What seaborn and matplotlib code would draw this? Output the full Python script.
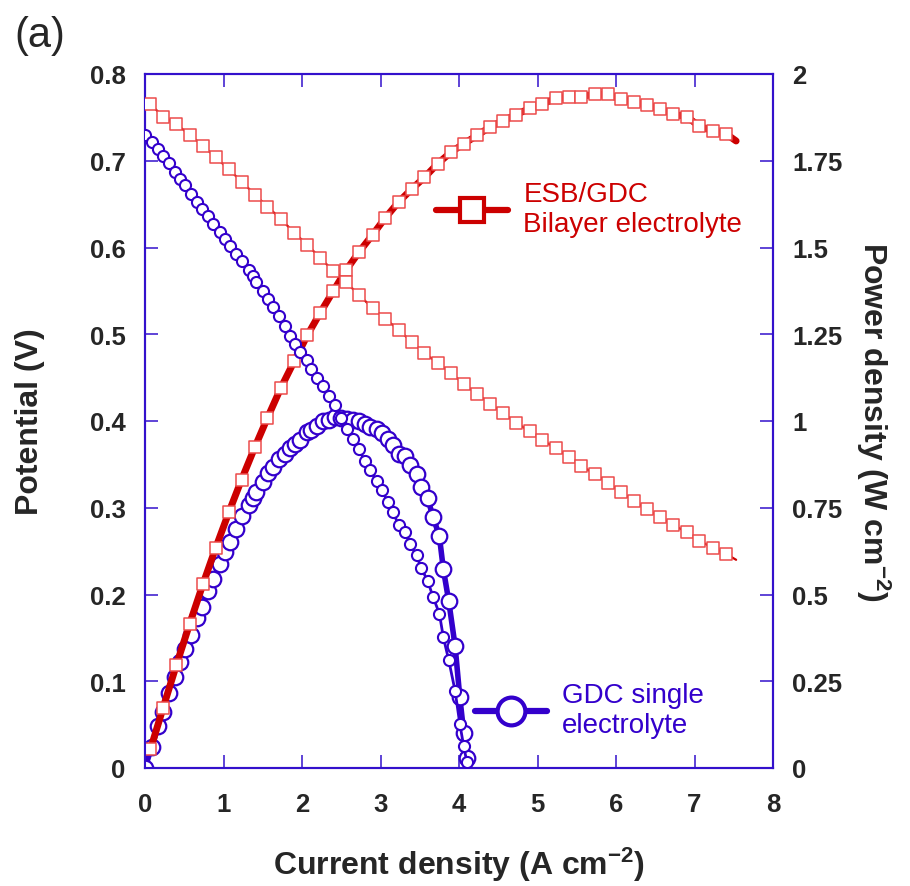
import numpy as np
import pandas as pd
import matplotlib
matplotlib.use("Agg")
import matplotlib.pyplot as plt
import seaborn as sns
from matplotlib.lines import Line2D

# ---------------- data ----------------
red_current = [0.07, 0.23, 0.40, 0.57, 0.74, 0.90, 1.07, 1.23, 1.40, 1.56, 1.73, 1.90,
               2.07, 2.23, 2.40, 2.56, 2.73, 2.90, 3.06, 3.23, 3.40, 3.56, 3.73, 3.90,
               4.06, 4.23, 4.40, 4.56, 4.73, 4.90, 5.06, 5.23, 5.40, 5.56, 5.73, 5.90,
               6.06, 6.23, 6.40, 6.56, 6.73, 6.90, 7.06, 7.23, 7.40, 7.53]
red_potential = [0.765, 0.751, 0.742, 0.730, 0.717, 0.704, 0.690, 0.676, 0.661, 0.647, 0.633, 0.617,
                 0.603, 0.588, 0.573, 0.560, 0.545, 0.530, 0.518, 0.505, 0.491, 0.478, 0.467, 0.455,
                 0.443, 0.431, 0.420, 0.409, 0.398, 0.388, 0.378, 0.369, 0.358, 0.348, 0.339, 0.329,
                 0.318, 0.308, 0.298, 0.289, 0.280, 0.272, 0.262, 0.254, 0.247, 0.240]
red_power = [0.054, 0.173, 0.297, 0.416, 0.531, 0.634, 0.738, 0.831, 0.925, 1.009, 1.095, 1.172,
             1.248, 1.311, 1.375, 1.434, 1.488, 1.537, 1.585, 1.631, 1.669, 1.702, 1.742, 1.775,
             1.799, 1.823, 1.848, 1.865, 1.883, 1.901, 1.913, 1.930, 1.933, 1.935, 1.942, 1.941,
             1.927, 1.919, 1.910, 1.900, 1.884, 1.877, 1.850, 1.836, 1.828, 1.807]

blue_current = [0.00, 0.085, 0.17, 0.23, 0.31, 0.38, 0.45, 0.51, 0.58, 0.66, 0.72, 0.80,
                0.87, 0.95, 1.02, 1.08, 1.16, 1.24, 1.32, 1.37, 1.42, 1.50, 1.57, 1.63,
                1.71, 1.78, 1.85, 1.91, 1.97, 2.06, 2.12, 2.19, 2.27, 2.34, 2.42, 2.50,
                2.57, 2.65, 2.72, 2.80, 2.87, 2.95, 3.02, 3.09, 3.16, 3.23, 3.31, 3.38,
                3.46, 3.52, 3.60, 3.67, 3.75, 3.80, 3.87, 3.95, 4.01, 4.06, 4.10]
blue_potential = [0.730, 0.722, 0.714, 0.706, 0.697, 0.687, 0.679, 0.672, 0.662, 0.653, 0.644, 0.636,
                  0.627, 0.618, 0.610, 0.602, 0.593, 0.585, 0.574, 0.567, 0.560, 0.550, 0.541, 0.531,
                  0.521, 0.509, 0.498, 0.489, 0.479, 0.470, 0.460, 0.450, 0.440, 0.429, 0.418, 0.404,
                  0.391, 0.379, 0.368, 0.354, 0.343, 0.331, 0.320, 0.307, 0.295, 0.280, 0.272, 0.258,
                  0.245, 0.230, 0.216, 0.197, 0.178, 0.151, 0.124, 0.089, 0.051, 0.025, 0.007]
blue_power = [0.000, 0.061, 0.121, 0.162, 0.216, 0.261, 0.306, 0.343, 0.384, 0.431, 0.464, 0.509,
              0.545, 0.587, 0.622, 0.650, 0.688, 0.725, 0.758, 0.777, 0.795, 0.825, 0.849, 0.866,
              0.891, 0.906, 0.921, 0.934, 0.944, 0.968, 0.975, 0.986, 0.999, 1.004, 1.012, 1.010,
              1.005, 1.004, 1.001, 0.991, 0.984, 0.976, 0.966, 0.949, 0.932, 0.904, 0.900, 0.872,
              0.848, 0.810, 0.778, 0.723, 0.668, 0.574, 0.480, 0.352, 0.205, 0.102, 0.029]

x_ticks = [0, 1, 2, 3, 4, 5, 6, 7, 8]
v_ticks = [0, 0.1, 0.2, 0.3, 0.4, 0.5, 0.6, 0.7, 0.8]
v_ticklabels = ["0", "0.1", "0.2", "0.3", "0.4", "0.5", "0.6", "0.7", "0.8"]
p_ticks = [0, 0.25, 0.5, 0.75, 1.0, 1.25, 1.5, 1.75, 2.0]
p_ticklabels = ["0", "0.25", "0.5", "0.75", "1", "1.25", "1.5", "1.75", "2"]

red_label = "ESB/GDC\nBilayer electrolyte"
blue_label = "GDC single\nelectrolyte"

# ---------------- style ----------------
sns.set_style("ticks")
plt.rcParams["font.family"] = ["Liberation Sans", "DejaVu Sans"]
plt.rcParams["mathtext.fontset"] = "custom"
plt.rcParams["mathtext.rm"] = "Liberation Sans:bold"
plt.rcParams["mathtext.default"] = "rm"

RED = "#CC0000"
RED_EDGE = "#EC4B4B"
BLUE = "#3300CC"
AX_BLUE = "#3311CC"

red_df = pd.DataFrame({"I": red_current, "V": red_potential, "P": red_power})
blue_df = pd.DataFrame({"I": blue_current, "V": blue_potential, "P": blue_power})

fig = plt.figure(figsize=(9.10, 8.87), dpi=100)
ax = fig.add_axes([145 / 910, 1 - 769 / 887, 628 / 910, 694 / 887])
ax2 = ax.twinx()
ax.set_zorder(ax2.get_zorder() + 1)
ax.patch.set_visible(False)

# ---- power curves (right axis) ----
sns.lineplot(data=blue_df, x="I", y="P", ax=ax2, sort=False, estimator=None,
             color=BLUE, linewidth=4.0, zorder=2)
sns.scatterplot(data=blue_df, x="I", y="P", ax=ax2, marker="o", s=11.2 ** 2,
                facecolor="white", edgecolor=BLUE, linewidth=1.6, zorder=3)
sns.lineplot(data=red_df, x="I", y="P", ax=ax2, sort=False, estimator=None,
             color=RED, linewidth=5.0, zorder=4)
sns.scatterplot(data=red_df.iloc[:-1], x="I", y="P", ax=ax2, marker="s", s=9.2 ** 2,
                facecolor="white", edgecolor=RED_EDGE, linewidth=1.1, zorder=5)

# ---- potential curves (left axis) ----
sns.lineplot(data=red_df, x="I", y="V", ax=ax, sort=False, estimator=None,
             color=RED, linewidth=1.6, zorder=2)
sns.scatterplot(data=red_df.iloc[:-1], x="I", y="V", ax=ax, marker="s", s=9.2 ** 2,
                facecolor="white", edgecolor=RED_EDGE, linewidth=1.1, zorder=3)
sns.lineplot(data=blue_df, x="I", y="V", ax=ax, sort=False, estimator=None,
             color=BLUE, linewidth=2.0, zorder=4)
sns.scatterplot(data=blue_df, x="I", y="V", ax=ax, marker="o", s=8.0 ** 2,
                facecolor="white", edgecolor=BLUE, linewidth=1.5, zorder=5)

# ---- axes ----
ax.set_xlim(0, 8)
ax.set_ylim(0, 0.8)
ax2.set_ylim(0, 2.0)
ax.set_xticks(x_ticks)
ax.set_xticks(np.arange(0, 8.01, 0.2), minor=True)
ax.set_yticks(v_ticks)
ax.set_yticklabels(v_ticklabels)
ax2.set_yticks(p_ticks)
ax2.set_yticklabels(p_ticklabels)

for a in (ax, ax2):
    for sp in a.spines.values():
        sp.set_visible(True)
        sp.set_color(AX_BLUE)
        sp.set_linewidth(1.5)

ax.tick_params(axis="x", which="major", direction="in", length=9.5, width=1.1,
               color=AX_BLUE, top=True, bottom=True, labelsize=18.5, pad=17)
ax.tick_params(axis="x", which="minor", direction="in", length=5.5, width=1.1,
               color=AX_BLUE, top=True, bottom=True)
ax.tick_params(axis="y", which="major", direction="in", length=9.5, width=1.1,
               color=AX_BLUE, left=True, right=False, labelsize=18.5, pad=14)
ax2.tick_params(axis="y", which="major", direction="in", length=9.5, width=1.1,
                color=AX_BLUE, right=True, left=False, labelsize=18.5, pad=14)
ax2.minorticks_off()
ax.yaxis.set_minor_locator(matplotlib.ticker.NullLocator())

for lbl in ax.get_xticklabels() + ax.get_yticklabels() + ax2.get_yticklabels():
    lbl.set_fontweight("bold")

ax.set_xlabel("Current density (A cm$^{-2}$)", fontsize=23, fontweight="bold")
ax.set_ylabel("Potential (V)", fontsize=23, fontweight="bold")
ax2.set_ylabel("Power density (W cm$^{-2}$)", fontsize=23, fontweight="bold", rotation=270)
ax.xaxis.set_label_coords(0.5, -0.11)
ax.yaxis.set_label_coords(-0.16, 0.5)
ax2.yaxis.set_label_coords(1.19, 0.5)

# ---- legends ----
red_handle = Line2D([], [], color=RED, linewidth=4.5, marker="s", markersize=17,
                    markerfacecolor="white", markeredgecolor=RED, markeredgewidth=3.0)
blue_handle = Line2D([], [], color=BLUE, linewidth=4.5, marker="o", markersize=20,
                     markerfacecolor="white", markeredgecolor=BLUE, markeredgewidth=3.0)

leg1 = ax.legend(handles=[red_handle], labels=[red_label], loc="center left",
                 bbox_to_anchor=(0.463, 0.805), frameon=False, fontsize=20,
                 handlelength=2.6, handletextpad=0.55, borderpad=0, borderaxespad=0,
                 labelcolor=RED)
ax.add_artist(leg1)
ax.legend(handles=[blue_handle], labels=[blue_label], loc="center left",
          bbox_to_anchor=(0.525, 0.083), frameon=False, fontsize=20,
          handlelength=2.6, handletextpad=0.55, borderpad=0, borderaxespad=0,
          labelcolor=BLUE)

fig.text(14 / 910, 1 - 36 / 887, "(a)", fontsize=30, ha="left", va="center")

fig.savefig("out.png", dpi=100)
